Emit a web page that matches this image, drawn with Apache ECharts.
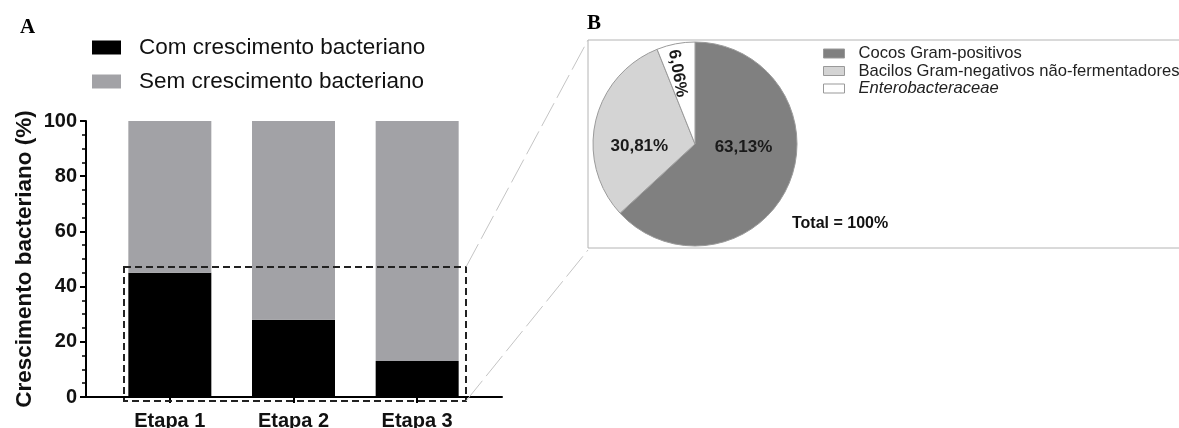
<!DOCTYPE html>
<html>
<head>
<meta charset="utf-8">
<script src="https://cdn.jsdelivr.net/npm/echarts@6/dist/echarts.min.js"></script>
<style>
  html, body { margin: 0; padding: 0; background: #fff; }
  #chart { width: 1179px; height: 428px; }
</style>
</head>
<body>
<div id="chart"></div>
<script>
// painel A - barras empilhadas
const categories = ['Etapa 1', 'Etapa 2', 'Etapa 3'];
const comCrescimento = [45, 28, 13];
const semCrescimento = [55, 72, 87];
const barNames = ['Com crescimento bacteriano', 'Sem crescimento bacteriano'];

// painel B - pizza
const pieNames = ['Cocos Gram-positivos', 'Bacilos Gram-negativos não-fermentadores', 'Enterobacteraceae'];
const pieValues = [63.13, 30.81, 6.06];
const totalText = 'Total = 100%';

const sans = 'Liberation Sans, Arial, sans-serif';
const serif = 'Liberation Serif, Times New Roman, serif';
const pieColors = ['#808080', '#d4d4d4', '#ffffff'];
// ajuste fino dos rótulos da pizza (o 3º está no referencial girado)
const pieLabelShift = [[-1, -18], [-3, 14], [-18.5, 4]];

const myChart = echarts.init(document.getElementById('chart'));

const chartOption = {
  animation: false,
  textStyle: { fontFamily: sans },
  title: [
    { text: 'A', left: 15, top: 12, textStyle: { fontFamily: serif, fontWeight: 'bold', fontSize: 21, color: '#000' } },
    { text: 'B', left: 582, top: 8, textStyle: { fontFamily: serif, fontWeight: 'bold', fontSize: 21, color: '#000' } },
    { text: totalText, left: 787, top: 211, textStyle: { fontFamily: sans, fontWeight: 'bold', fontSize: 16, color: '#111' } }
  ],
  legend: [
    {
      data: barNames,
      orient: 'vertical',
      left: 92,
      top: 36,
      padding: 0,
      itemWidth: 29,
      itemHeight: 14,
      itemGap: 11,
      icon: 'rect',
      selectedMode: false,
      textStyle: { fontSize: 22.5, lineHeight: 22, color: '#111', padding: [0, 0, 0, 13] }
    },
    {
      data: pieNames.map((n, i) => i === 2 ? { name: n, textStyle: { fontStyle: 'italic' } } : n),
      orient: 'vertical',
      left: 823,
      top: 45,
      padding: 0,
      itemWidth: 21,
      itemHeight: 9,
      itemGap: 0.5,
      icon: 'rect',
      selectedMode: false,
      itemStyle: { borderColor: '#999', borderWidth: 1 },
      textStyle: { fontSize: 16.6, lineHeight: 17, color: '#222', padding: [0, 0, 0, 9] }
    }
  ],
  grid: [
    { left: 108, top: 121, width: 371, height: 276, outerBoundsMode: 'none' },
    { left: 86, top: 121, width: 416, height: 276, outerBoundsMode: 'none' }
  ],
  xAxis: [
    {
      type: 'category',
      gridIndex: 0,
      data: categories,
      axisLine: { show: false },
      axisTick: { show: true, alignWithLabel: true, length: 6, lineStyle: { color: '#000', width: 2 } },
      axisLabel: { margin: 14, fontSize: 20, fontWeight: 'bold', color: '#111' }
    },
    {
      type: 'value',
      gridIndex: 1,
      min: 0,
      max: 1,
      axisLine: { show: true, lineStyle: { color: '#000', width: 2 } },
      axisTick: { show: false },
      axisLabel: { show: false },
      splitLine: { show: false }
    }
  ],
  yAxis: [
    {
      type: 'value',
      gridIndex: 0,
      min: 0,
      max: 100,
      interval: 20,
      offset: 22,
      name: 'Crescimento bacteriano (%)',
      nameLocation: 'middle',
      nameGap: 50,
      nameTextStyle: { fontSize: 22.5, fontWeight: 'bold', color: '#111' },
      axisLine: { show: true, lineStyle: { color: '#000', width: 2 } },
      axisTick: { show: true, length: 6, lineStyle: { color: '#000', width: 2 } },
      minorTick: { show: true, splitNumber: 4, length: 4, lineStyle: { color: '#000', width: 1.5 } },
      axisLabel: { margin: 9, fontSize: 20, fontWeight: 'bold', color: '#111' },
      splitLine: { show: false }
    },
    { type: 'value', gridIndex: 1, show: false, min: 0, max: 1 }
  ],
  series: [
    {
      name: barNames[0],
      type: 'bar',
      stack: 'total',
      xAxisIndex: 0,
      yAxisIndex: 0,
      barWidth: 83,
      data: comCrescimento,
      itemStyle: { color: '#000' }
    },
    {
      name: barNames[1],
      type: 'bar',
      stack: 'total',
      xAxisIndex: 0,
      yAxisIndex: 0,
      barWidth: 83,
      data: semCrescimento,
      itemStyle: { color: '#a2a2a6' }
    },
    {
      name: 'Pizza',
      type: 'pie',
      center: [695, 144],
      radius: 102,
      startAngle: 90,
      clockwise: true,
      emphasis: { disabled: true },
      itemStyle: { borderColor: '#9a9a9a', borderWidth: 1 },
      label: {
        show: true,
        position: 'inside',
        fontSize: 17,
        fontWeight: 'bold',
        color: '#1a1a1a',
        formatter: (p) => p.value.toFixed(2).replace('.', ',') + '%'
      },
      labelLayout: (p) => ({ dx: pieLabelShift[p.dataIndex][0], dy: pieLabelShift[p.dataIndex][1] }),
      data: pieNames.map((n, i) => ({
        name: n,
        value: pieValues[i],
        itemStyle: { color: pieColors[i] },
        label: i === 2 ? { rotate: -80 } : {}
      }))
    }
  ],
  graphic: [
    // moldura do painel B
    { type: 'rect', shape: { x: 588, y: 40, width: 620, height: 208 }, style: { fill: 'none', stroke: '#b4b4b4', lineWidth: 1 }, z: 0 },
    // retângulo tracejado de destaque
    { type: 'rect', shape: { x: 124, y: 267, width: 342, height: 134 }, style: { fill: 'none', stroke: '#222', lineWidth: 2, lineDash: [7, 4] }, z: 10 },
    // linhas de ligação
    { type: 'line', shape: { x1: 466, y1: 267, x2: 588, y2: 40 }, style: { stroke: '#c4c4c4', lineWidth: 1, lineDash: [26, 6] }, z: 10 },
    { type: 'line', shape: { x1: 466, y1: 401, x2: 588, y2: 250 }, style: { stroke: '#c4c4c4', lineWidth: 1, lineDash: [26, 6] }, z: 10 }
  ]
};

myChart.setOption(chartOption);
</script>
</body>
</html>
